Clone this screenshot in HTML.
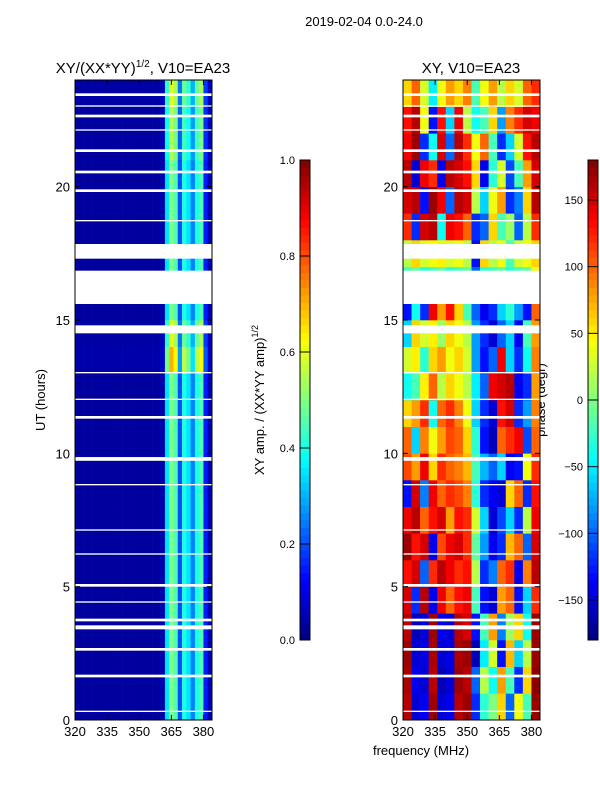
<!DOCTYPE html>
<html><head><meta charset="utf-8"><style>
body{margin:0;background:#fff;}
svg{font-family:"Liberation Sans",sans-serif;}
</style></head><body>
<svg id="s" width="600" height="800" xmlns="http://www.w3.org/2000/svg">
<text x="364" y="26" font-size="13" text-anchor="middle">2019-02-04 0.0-24.0</text>
<text x="143" y="73" font-size="15" text-anchor="middle">XY/(XX*YY)<tspan dy="-6" font-size="10">1/2</tspan><tspan dy="6">, V10=EA23</tspan></text>
<text x="471" y="73" font-size="15" text-anchor="middle">XY, V10=EA23</text>
<text transform="translate(45,400) rotate(-90)" font-size="13" text-anchor="middle">UT (hours)</text>
<text x="421" y="755" font-size="13" text-anchor="middle">frequency (MHz)</text>
<text transform="translate(264,400) rotate(-90)" font-size="13" text-anchor="middle">XY amp. / (XX*YY amp)<tspan dy="-6" font-size="9">1/2</tspan></text>
<text transform="translate(545,400) rotate(-90)" font-size="13" text-anchor="middle">phase (degr)</text>
<g id="gL"></g>
<g id="gR"></g>
<g id="gA"></g>
</svg>
<script>
const timeHours=[0,1,2,3,4,5,6,7,8,9,10,11,12,13,14,15,16,17,18,19,20,21,22,23];
const ampColProfile=[0.03,0.03,0.03,0.03,0.03,0.03,0.03,0.03,0.03,0.03,0.03,0.03,0.03,0.03,0.03,0.03,0.03,0.03,0.03,0.03,0.05,0.35,0.5,0.45,0.2,0.4,0.35,0.25,0.4,0.45,0.15,0.05];
const ampRowScale=[1,1,1,1,1,1,1,1,1,1,1,1,1,1.4,1.2,1,1,1,1,1,1,1.1,1.1,1.2];
const phaseRows=[
[160,-150,-140,170,-150,-140,160,170,-120,-30,0,60,-100,40,-20,170],
[165,-140,-150,160,-160,-150,170,160,-100,20,-40,80,-20,-120,60,175],
[170,-150,-145,165,-150,-145,165,170,-160,-50,30,-130,70,-60,20,170],
[160,-160,-150,170,-140,-150,160,150,-130,-20,80,-90,10,60,-40,170],
[150,-120,160,-140,140,100,130,140,-20,-130,-150,80,100,-130,-60,120],
[130,150,-100,120,160,140,120,130,20,-120,-90,100,120,-140,90,160],
[170,130,150,-140,110,140,150,120,-10,-80,-140,-120,70,100,-100,150],
[140,160,100,130,150,80,130,120,30,-60,-150,-110,-60,-120,20,140],
[-130,150,-90,140,100,120,110,90,-30,-120,-140,-150,60,100,-120,130],
[110,80,140,60,120,100,90,70,-20,-70,-100,-60,-140,-130,40,120],
[100,-60,90,40,80,110,100,60,-30,-130,-160,100,120,140,-110,100],
[60,80,120,-40,100,120,90,40,-60,-120,-150,130,150,-120,-80,90],
[-40,-20,50,100,20,60,40,20,-50,-100,140,150,160,-140,-120,80],
[30,50,-30,60,80,40,60,30,-80,-130,-100,140,-60,-120,-40,90],
[-60,60,30,50,10,60,40,20,-80,-120,-150,-100,-60,-140,-20,80],
[-130,-40,-120,140,80,130,60,-20,-100,-140,-120,-60,-30,-80,-130,100],
[-20,-10,-30,-20,-10,-30,-20,-10,-100,-30,-20,-10,-30,-20,-10,40],
[20,60,30,40,50,30,40,20,-130,60,20,40,-20,30,40,60],
[120,-120,150,160,-40,140,130,100,-120,-100,60,-20,10,-100,20,120],
[150,160,-130,170,140,-100,160,150,20,-60,40,80,-120,-90,60,160],
[160,-150,140,120,-140,160,150,130,60,-140,-30,30,-110,-20,80,150],
[140,170,-120,-40,150,-100,160,120,40,100,-20,-120,-60,30,130,160],
[130,160,40,-130,130,-60,140,20,-40,-20,60,-80,90,120,150,140],
[60,100,30,-50,40,80,60,90,-20,40,80,20,60,30,100,120]];
const gaps=[[15.6,16.85],[17.3,17.85],[14.5,14.8],[9.72,9.86],[3.4,3.55],[3.7,3.8],[22.6,22.7],[23.4,23.5],[21.3,21.4],[20.5,20.6],[19.8,19.9],[18.7,18.75],[12.0,12.05],[11.3,11.4],[8.8,8.85],[7.1,7.15],[5.0,5.1],[4.4,4.45],[2.6,2.7],[1.6,1.7],[0.3,0.35],[6.2,6.25],[13.0,13.05],[23.0,23.05],[22.1,22.15]];
const xTicks=[320,335,350,365,380];
const yTicks=[0,5,10,15,20];
const ampTicks=[0.0,0.2,0.4,0.6,0.8,1.0];
const phaseTicks=[-150,-100,-50,0,50,100,150];

const NS="http://www.w3.org/2000/svg";
const PW=137,Y0=720,Y1=80;
const fmin=320,fmax=384;
function xs(ox,f){return ox+(f-fmin)/(fmax-fmin)*PW;}
function ys(h){return Y0-(h/24)*(Y0-Y1);}
function jet(v){v=Math.max(0,Math.min(1,v));
 const r=Math.max(0,Math.min(1,1.5-Math.abs(4*v-3))),g=Math.max(0,Math.min(1,1.5-Math.abs(4*v-2))),b=Math.max(0,Math.min(1,1.5-Math.abs(4*v-1)));
 return `rgb(${Math.round(r*255)},${Math.round(g*255)},${Math.round(b*255)})`;}
function mk(p,tag,a){const e=document.createElementNS(NS,tag);for(const k in a)e.setAttribute(k,a[k]);p.appendChild(e);return e;}
const gL=document.getElementById('gL'),gR=document.getElementById('gR'),gA=document.getElementById('gA');
const LX=75,RX=403;
// amp heatmap
const dL=(fmax-fmin)/ampColProfile.length;
timeHours.forEach((h,r)=>{ampColProfile.forEach((p,c)=>{
 const x0=xs(LX,fmin+c*dL),x1=xs(LX,fmin+(c+1)*dL);
 const e=mk(gL,'rect',{x:x0,y:ys(h+1),width:x1-x0+0.3,height:ys(h)-ys(h+1)+0.3,fill:jet(p*ampRowScale[r])});
 
 
});});
// phase heatmap
timeHours.forEach((h,r)=>{const row=phaseRows[r];const d=(fmax-fmin)/row.length;row.forEach((v,c)=>{
 const x0=xs(RX,fmin+c*d),x1=xs(RX,fmin+(c+1)*d);
 const e=mk(gR,'rect',{x:x0,y:ys(h+1),width:x1-x0+0.3,height:ys(h)-ys(h+1)+0.3,fill:jet((v+180)/360)});
 
 
});});
// gaps
[LX,RX].forEach(ox=>gaps.forEach(g=>{
 const e=mk(gA,'rect',{x:ox,y:ys(g[1]),width:PW,height:ys(g[0])-ys(g[1]),fill:'#fff'});
 
 
}));
// axes
[LX,RX].forEach((ox,i)=>{
 const f=mk(gA,'rect',{x:ox,y:Y1,width:PW,height:Y0-Y1,fill:'none',stroke:'#000','stroke-width':1});
 
 
 xTicks.forEach(t=>{const x=xs(ox,t);
  mk(gA,'line',{x1:x,x2:x,y1:Y0,y2:Y0-5,stroke:'#000'});mk(gA,'line',{x1:x,x2:x,y1:Y1,y2:Y1+5,stroke:'#000'});
  const tx=mk(gA,'text',{x:x,y:Y0+16,'font-size':13,'text-anchor':'middle'});tx.textContent=t;
  
  });
 yTicks.forEach(t=>{const y=ys(t);
  mk(gA,'line',{x1:ox,x2:ox+5,y1:y,y2:y,stroke:'#000'});mk(gA,'line',{x1:ox+PW,x2:ox+PW-5,y1:y,y2:y,stroke:'#000'});
  const tx=mk(gA,'text',{x:ox-5,y:y+5,'font-size':13,'text-anchor':'end'});tx.textContent=t;
  
  });
});
// colorbars
function cbar(cx,ticks,lo,hi,fmt,name){
 const CT=160,CB=640,N=64;
 for(let i=0;i<N;i++){const e=mk(gA,'rect',{x:cx,y:CB-(i+1)*(CB-CT)/N,width:10,height:(CB-CT)/N+0.5,fill:jet((i+0.5)/N)});
  
  }
 const fr=mk(gA,'rect',{x:cx,y:CT,width:10,height:CB-CT,fill:'none',stroke:'#000'});
 
 
 ticks.forEach(t=>{const y=CB-(t-lo)/(hi-lo)*(CB-CT);
  mk(gA,'line',{x1:cx,x2:cx+10,y1:y,y2:y,stroke:'#000'});
  const tx=mk(gA,'text',{x:cx-5,y:y+4,'font-size':11,'text-anchor':'end'});tx.textContent=fmt(t);
  
  });
}
cbar(300,ampTicks,0,1,t=>t.toFixed(1),'amp-colorbar');
cbar(588,phaseTicks,-180,180,t=>t<0?'\u2212'+(-t):String(t),'phase-colorbar');
</script>
</body></html>
